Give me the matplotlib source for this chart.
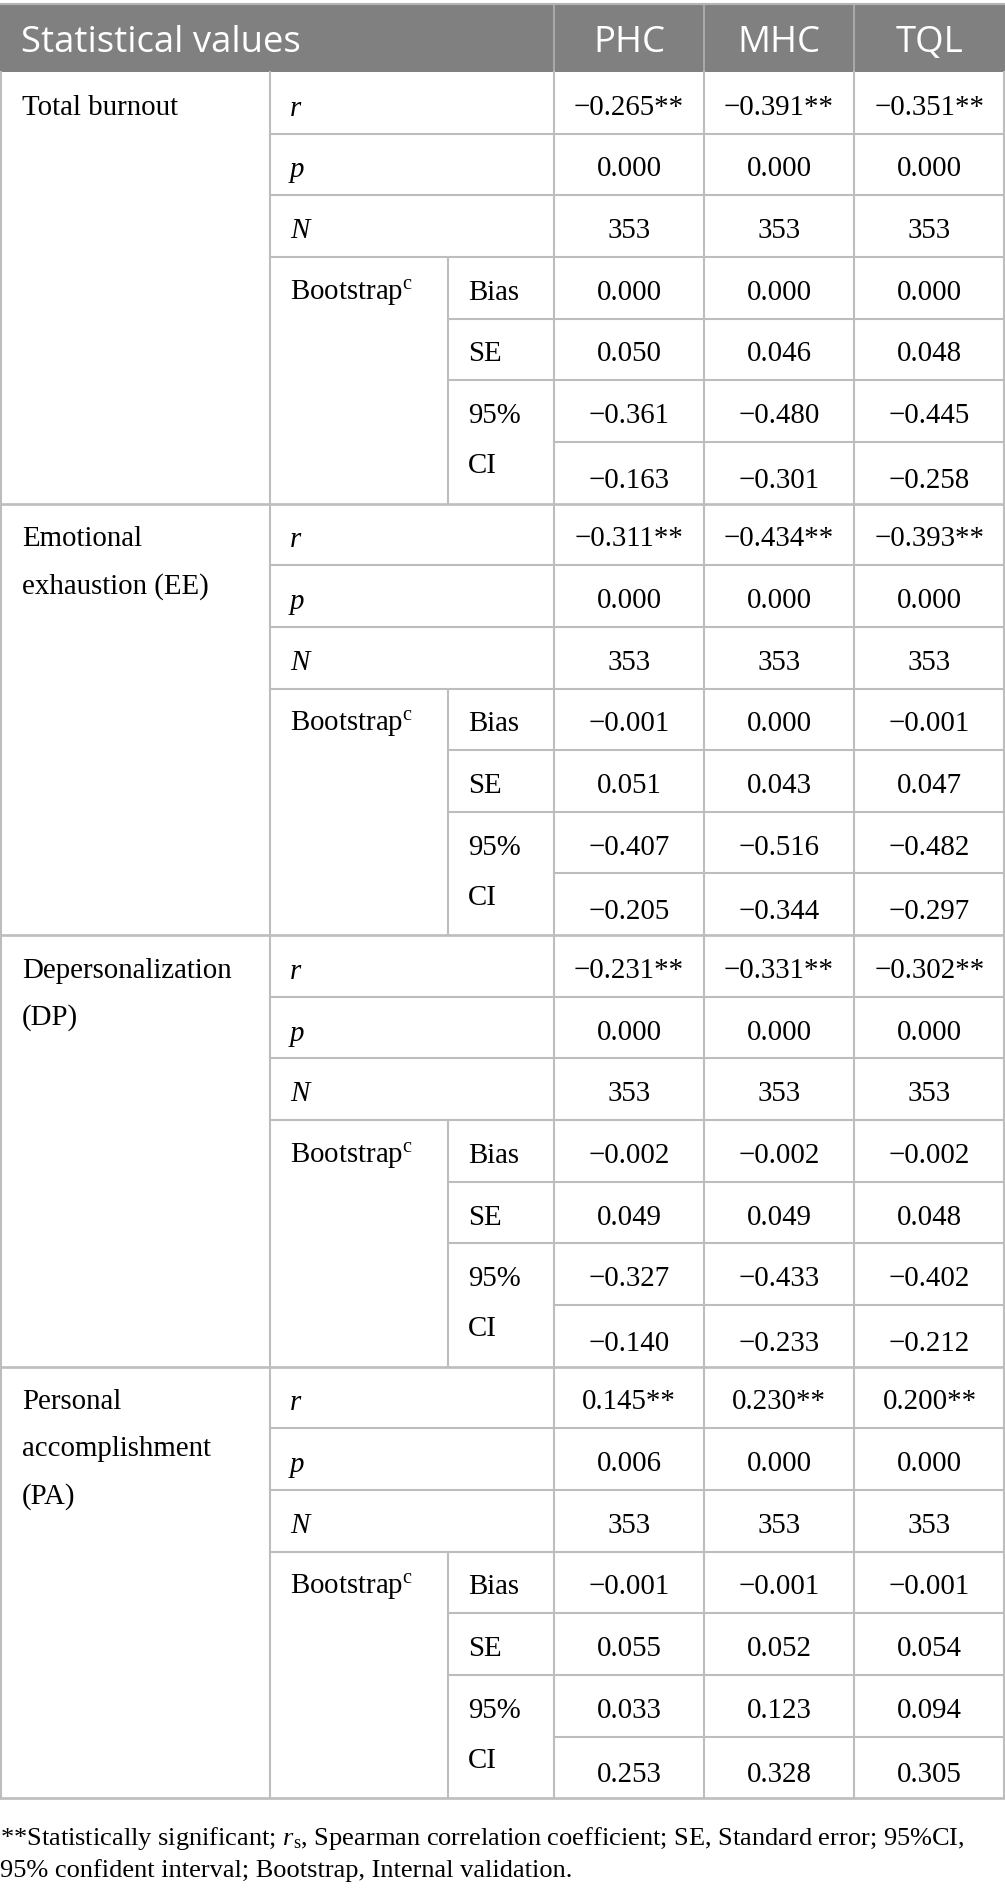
import matplotlib
matplotlib.use('Agg')
import matplotlib.pyplot as plt

plt.rcParams['mathtext.fontset'] = 'custom'
plt.rcParams['mathtext.rm'] = 'Liberation Serif'
plt.rcParams['mathtext.it'] = 'Liberation Serif:italic'

# table content
groups = ['Total burnout', 'Emotional\nexhaustion (EE)', 'Depersonalization\n(DP)',
          'Personal\naccomplishment\n(PA)']
columns = ['PHC', 'MHC', 'TQL']
r_vals = [[-0.265, -0.391, -0.351], [-0.311, -0.434, -0.393],
          [-0.231, -0.331, -0.302], [0.145, 0.230, 0.200]]
p_vals = [[0.000, 0.000, 0.000], [0.000, 0.000, 0.000],
          [0.000, 0.000, 0.000], [0.006, 0.000, 0.000]]
n_vals = [[353, 353, 353], [353, 353, 353], [353, 353, 353], [353, 353, 353]]
bias_vals = [[0.000, 0.000, 0.000], [-0.001, 0.000, -0.001],
             [-0.002, -0.002, -0.002], [-0.001, -0.001, -0.001]]
se_vals = [[0.050, 0.046, 0.048], [0.051, 0.043, 0.047],
           [0.049, 0.049, 0.048], [0.055, 0.052, 0.054]]
ci_low = [[-0.361, -0.480, -0.445], [-0.407, -0.516, -0.482],
          [-0.327, -0.433, -0.402], [0.033, 0.123, 0.094]]
ci_high = [[-0.163, -0.301, -0.258], [-0.205, -0.344, -0.297],
           [-0.140, -0.233, -0.212], [0.253, 0.328, 0.305]]
footnote = ['**Statistically significant; $\\mathit{r}_{\\mathrm{s}}$, Spearman correlation coefficient; '
            'SE, Standard error; 95%CI,',
            '95% confident interval; Bootstrap, Internal validation.']

W, H = 1005, 1889
fig = plt.figure(figsize=(W / 100, H / 100), dpi=100)
ax = fig.add_axes([0, 0, 1, 1])
ax.set_xlim(0, W)
ax.set_ylim(H, 0)
ax.axis('off')

serif = 'Liberation Serif'
fs = 20.8
grid = '#bdbdbd'
lw = 1.5

# column edges
x1, x2, x3 = 270, 448, 554
col_edges = [554, 704, 854, 1005]
col_mid = [(col_edges[i] + col_edges[i + 1]) / 2 for i in range(3)]

head_top, head_bot = 4, 72
row_h = 61.65
dy = 5  # shift from bbox centre to visual centre

# header
ax.fill_between([0, W], head_top, head_bot, color='#808080', lw=0)
hy = (head_top + head_bot) / 2 + 5
ax.text(21, hy, 'Statistical values', color='white',
        fontsize=26.3, family='Open Sans', va='center', ha='left')
for i, c in enumerate(columns):
    ax.text(col_mid[i], hy, c, color='white',
            fontsize=26.3, family='Open Sans', va='center', ha='center')
for xe in col_edges[:-1]:
    ax.plot([xe, xe], [head_top, head_bot], color='#a8a8a8', lw=lw)


def fmt(v, stars=False):
    s = f'{v:.3f}'.replace('-', '\u2212')
    return s + ('**' if stars else '')


for g, name in enumerate(groups):
    top = head_bot + g * 7 * row_h
    ys = [top + k * row_h for k in range(8)]
    mids = [(ys[k] + ys[k + 1]) / 2 for k in range(7)]

    # group label
    for li, ln in enumerate(name.split('\n')):
        ax.text(22, mids[0] + dy + li * 47, ln, family=serif, fontsize=fs,
                va='center', ha='left')

    # stat labels
    ax.text(290, mids[0] + dy + 1, 'r', family=serif, style='italic', fontsize=fs, va='center')
    ax.text(290, mids[1] + dy + 1, 'p', family=serif, style='italic', fontsize=fs, va='center')
    ax.text(290, mids[2] + dy, 'N', family=serif, style='italic', fontsize=fs, va='center')
    ax.text(290, mids[3] + dy, 'Bootstrap$^{\\mathrm{c}}$', family=serif, fontsize=fs, va='center')
    ax.text(468, mids[3] + dy, 'Bias', family=serif, fontsize=fs, va='center')
    ax.text(468, mids[4] + dy, 'SE', family=serif, fontsize=fs, va='center')
    ax.text(468, mids[5] + dy, '95%', family=serif, fontsize=fs, va='center')
    ax.text(468, mids[5] + dy + 50, 'CI', family=serif, fontsize=fs, va='center')

    rows = [[fmt(v, True) for v in r_vals[g]],
            [fmt(v) for v in p_vals[g]],
            [str(v) for v in n_vals[g]],
            [fmt(v) for v in bias_vals[g]],
            [fmt(v) for v in se_vals[g]],
            [fmt(v) for v in ci_low[g]],
            [fmt(v) for v in ci_high[g]]]
    for k, row in enumerate(rows):
        off = dy + 3 if k == 6 else dy
        for i, s in enumerate(row):
            ax.text(col_mid[i], mids[k] + off, s, family=serif, fontsize=fs,
                    va='center', ha='center')

    # horizontal rules
    for k in range(1, 4):
        ax.plot([x1, W], [ys[k], ys[k]], color=grid, lw=lw)
    for k in range(4, 6):
        ax.plot([x2, W], [ys[k], ys[k]], color=grid, lw=lw)
    ax.plot([x3, W], [ys[6], ys[6]], color=grid, lw=lw)
    ax.plot([0, W], [ys[7], ys[7]], color=grid, lw=lw + 0.4)

    # inner vertical rule for bootstrap block
    ax.plot([x2, x2], [ys[3], ys[7]], color=grid, lw=lw)

body_bot = head_bot + 28 * row_h
for xe in [1, x1, 554, 704, 854, W - 1]:
    ax.plot([xe, xe], [head_bot, body_bot], color=grid, lw=lw)
ax.plot([0, W], [head_top, head_top], color='#b4b4b4', lw=lw)

ax.text(0, 1838, footnote[0], family=serif, fontsize=19, va='center', ha='left')
ax.text(0, 1871, footnote[1], family=serif, fontsize=19, va='center', ha='left')

fig.savefig('out.png', dpi=100)
